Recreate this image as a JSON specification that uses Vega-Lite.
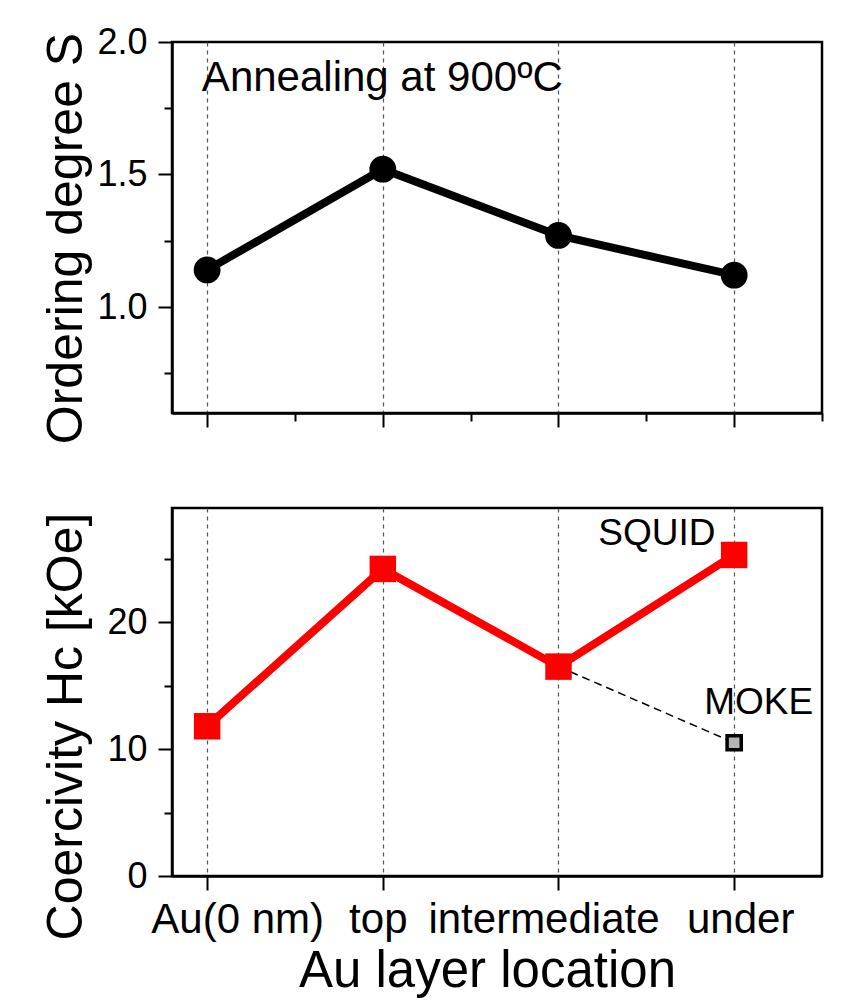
{
  "$schema": "https://vega.github.io/schema/vega-lite/v6.json",
  "background": "white",
  "padding": {"left": 40, "top": 22, "right": 20, "bottom": 0},
  "spacing": 95,
  "bounds": "flush",
  "config": {
    "font": "Liberation Sans",
    "view": {"stroke": "black", "strokeWidth": 2.5},
    "axis": {
      "domainColor": "black", "domainWidth": 2.5, "tickColor": "black", "tickWidth": 2,
      "labelColor": "black", "titleColor": "black", "labelFontSize": 36, "titleFontSize": 50,
      "titleFontWeight": "normal", "labelFont": "Liberation Sans", "titleFont": "Liberation Sans", "grid": false
    }
  },
  "datasets": {
    "order": [
      {"pos": 1, "S": 1.14},
      {"pos": 2, "S": 1.52},
      {"pos": 3, "S": 1.27},
      {"pos": 4, "S": 1.12}
    ],
    "squid": [
      {"pos": 1, "Hc": 11.8},
      {"pos": 2, "Hc": 24.2},
      {"pos": 3, "Hc": 16.5},
      {"pos": 4, "Hc": 25.3}
    ],
    "moke": [
      {"pos": 4, "Hc": 10.5}
    ],
    "mokelink": [
      {"pos": 3, "Hc": 16.5},
      {"pos": 4, "Hc": 10.5}
    ],
    "notesTop": [
      {"pos": 0.97, "S": 1.815, "label": "Annealing at 900ºC"}
    ],
    "notesBottom": [
      {"pos": 3.56, "Hc": 26.1, "label": "SQUID"},
      {"pos": 4.14, "Hc": 12.8, "label": "MOKE"}
    ]
  },
  "vconcat": [
    {
      "width": 650,
      "height": 371,
      "resolve": {"axis": {"x": "independent", "y": "independent"}},
      "layer": [
        {
          "data": {"name": "order"},
          "mark": {"type": "line", "color": "black", "strokeWidth": 8},
          "encoding": {
            "x": {"field": "pos", "type": "quantitative",
                  "scale": {"domain": [0.8, 4.5], "nice": false, "zero": false},
                  "axis": {"values": [1, 2, 3, 4], "labels": false, "tickSize": 14, "grid": true,
                           "gridDash": [4, 4], "gridColor": "#555555", "gridWidth": 1.2, "title": null}},
            "y": {"field": "S", "type": "quantitative",
                  "scale": {"domain": [0.6, 2.0], "nice": false, "zero": false},
                  "axis": {"values": [1.0, 1.5, 2.0], "format": ".1f", "tickSize": 14, "labelPadding": 11,
                           "title": "Ordering degree S", "titlePadding": 5, "titleY": 196}}
          }
        },
        {
          "data": {"name": "order"},
          "mark": {"type": "point", "filled": true, "color": "black", "size": 720, "opacity": 1},
          "encoding": {
            "x": {"field": "pos", "type": "quantitative", "axis": null},
            "y": {"field": "S", "type": "quantitative", "axis": null}
          }
        },
        {
          "data": {"name": "notesTop"},
          "mark": {"type": "text", "align": "left", "baseline": "alphabetic", "fontSize": 42, "color": "black"},
          "encoding": {
            "x": {"field": "pos", "type": "quantitative",
                  "axis": {"orient": "bottom", "values": [1.5, 2.5, 3.5, 4.5], "labels": false, "tickSize": 8,
                           "domain": false, "grid": false, "title": null}},
            "y": {"field": "S", "type": "quantitative",
                  "axis": {"orient": "left", "values": [0.75, 1.25, 1.75], "labels": false, "tickSize": 8,
                           "domain": false, "grid": false, "title": null}},
            "text": {"field": "label"}
          }
        }
      ]
    },
    {
      "width": 650,
      "height": 368,
      "resolve": {"axis": {"x": "independent", "y": "independent"}},
      "layer": [
        {
          "data": {"name": "squid"},
          "mark": {"type": "line", "color": "#ff0000", "strokeWidth": 8},
          "encoding": {
            "x": {"field": "pos", "type": "quantitative",
                  "scale": {"domain": [0.8, 4.5], "nice": false, "zero": false},
                  "axis": {"values": [1, 2, 3, 4], "tickSize": 14, "grid": true,
                           "gridDash": [4, 4], "gridColor": "#555555", "gridWidth": 1.2,
                           "labelExpr": "['', 'Au(0 nm)', 'top', 'intermediate', 'under'][datum.value]",
                           "labelFontSize": 42, "labelPadding": 9, "labelFlush": false, "labelOverlap": false,
                           "labelLimit": 0,
                           "labelOffset": {"condition": [
                             {"test": "datum.value == 1", "value": 30},
                             {"test": "datum.value == 2", "value": -5},
                             {"test": "datum.value == 3", "value": -15},
                             {"test": "datum.value == 4", "value": 6}
                           ], "value": 0},
                           "title": "Au layer location", "titleFontSize": 51, "titlePadding": 6, "titleX": 315}},
            "y": {"field": "Hc", "type": "quantitative",
                  "scale": {"domain": [0, 29], "nice": false, "zero": false},
                  "axis": {"values": [0, 10, 20], "tickSize": 14, "labelPadding": 11,
                           "title": "Coercivity Hc [kOe]", "titlePadding": 15, "titleY": 218}}
          }
        },
        {
          "data": {"name": "mokelink"},
          "mark": {"type": "line", "color": "black", "strokeWidth": 1.5, "strokeDash": [8, 5]},
          "encoding": {
            "x": {"field": "pos", "type": "quantitative", "axis": null},
            "y": {"field": "Hc", "type": "quantitative", "axis": null}
          }
        },
        {
          "data": {"name": "squid"},
          "mark": {"type": "point", "shape": "square", "filled": true, "color": "#ff0000", "size": 700, "opacity": 1},
          "encoding": {
            "x": {"field": "pos", "type": "quantitative", "axis": null},
            "y": {"field": "Hc", "type": "quantitative", "axis": null}
          }
        },
        {
          "data": {"name": "moke"},
          "mark": {"type": "point", "shape": "square", "filled": true, "fill": "#b4b4b4", "stroke": "black",
                   "strokeWidth": 3.5, "size": 200, "opacity": 1},
          "encoding": {
            "x": {"field": "pos", "type": "quantitative", "axis": null},
            "y": {"field": "Hc", "type": "quantitative", "axis": null}
          }
        },
        {
          "data": {"name": "notesBottom"},
          "mark": {"type": "text", "align": "center", "baseline": "alphabetic", "fontSize": 37, "color": "black"},
          "encoding": {
            "x": {"field": "pos", "type": "quantitative", "axis": null},
            "y": {"field": "Hc", "type": "quantitative",
                  "axis": {"orient": "left", "values": [5, 15, 25], "labels": false, "tickSize": 8,
                           "domain": false, "grid": false, "title": null}},
            "text": {"field": "label"}
          }
        }
      ]
    }
  ]
}
